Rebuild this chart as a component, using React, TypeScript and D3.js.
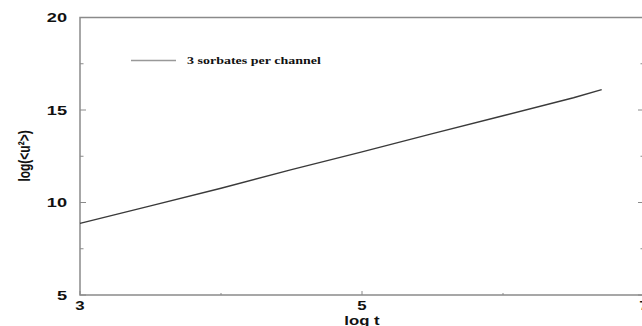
import * as d3 from "d3";
import { useEffect, useRef } from "react";

// log t values and log(<u^2>)
const LOG_T = [3, 3.5, 4, 4.5, 5, 5.5, 6, 6.5, 6.7];
const LOG_U2 = [8.87, 9.82, 10.77, 11.78, 12.74, 13.72, 14.69, 15.66, 16.1];

const X_MAJOR = [3, 5, 7];
const X_MINOR = [4, 6];
const Y_MAJOR = [5, 10, 15, 20];
const Y_MINOR = [7.5, 12.5, 17.5];

const SERIES_LABEL = "3 sorbates per channel";
const X_TITLE = "log t";
const Y_TITLE = "log(<u²>)";

const W = 642;
const H = 326;
const SX = 1.4; // the old figure's text is stretched sideways

const App = () => {
	const svgRef = useRef(null);

	useEffect(() => {
		const x = d3.scaleLinear().domain([3, 7]).range([80, 644]);
		const y = d3.scaleLinear().domain([5, 20]).range([295, 17.5]);

		const svg = d3.select(svgRef.current);
		svg.selectAll("*").remove();
		svg.style("background", "#fff");

		const frame = "#8a8a8a";

		// frame
		svg.append("rect")
			.attr("x", x(3))
			.attr("y", y(20))
			.attr("width", x(7) - x(3))
			.attr("height", y(5) - y(20))
			.attr("fill", "none")
			.attr("stroke", frame)
			.attr("stroke-width", 1.5);

		// y ticks, inward on both sides
		const yTicks = [
			...Y_MAJOR.map((v) => ({ v, len: 6 })),
			...Y_MINOR.map((v) => ({ v, len: 3.5 })),
		];
		yTicks.forEach(({ v, len }) => {
			svg.append("line")
				.attr("x1", x(3))
				.attr("x2", x(3) + len)
				.attr("y1", y(v))
				.attr("y2", y(v))
				.attr("stroke", frame)
				.attr("stroke-width", 1);
			svg.append("line")
				.attr("x1", x(7))
				.attr("x2", x(7) - len)
				.attr("y1", y(v))
				.attr("y2", y(v))
				.attr("stroke", frame)
				.attr("stroke-width", 1);
		});

		// x ticks
		const xTicks = [
			...X_MAJOR.map((v) => ({ v, len: 4 })),
			...X_MINOR.map((v) => ({ v, len: 2 })),
		];
		xTicks.forEach(({ v, len }) => {
			svg.append("line")
				.attr("x1", x(v))
				.attr("x2", x(v))
				.attr("y1", y(5))
				.attr("y2", y(5) - len)
				.attr("stroke", frame)
				.attr("stroke-width", 1);
		});

		const sans = "'Liberation Sans', Arial, sans-serif";

		// y tick labels
		Y_MAJOR.forEach((v) => {
			svg.append("text")
				.attr("transform", `translate(67,${y(v) + 4.6}) scale(${SX},1)`)
				.attr("text-anchor", "end")
				.attr("font-family", sans)
				.attr("font-weight", "bold")
				.attr("font-size", 13)
				.attr("fill", "#111")
				.text(v);
		});

		// x tick labels
		X_MAJOR.forEach((v) => {
			svg.append("text")
				.attr("transform", `translate(${x(v)},310) scale(${SX},1)`)
				.attr("text-anchor", "middle")
				.attr("font-family", sans)
				.attr("font-weight", "bold")
				.attr("font-size", 12)
				.attr("fill", "#111")
				.text(v);
		});

		// axis titles
		svg.append("text")
			.attr("transform", `translate(${x(5)},325) scale(${SX},1)`)
			.attr("text-anchor", "middle")
			.attr("font-family", sans)
			.attr("font-weight", "bold")
			.attr("font-size", 12)
			.attr("fill", "#111")
			.text(X_TITLE);

		svg.append("text")
			.attr("transform", `translate(30,156) rotate(-90) scale(1,${SX})`)
			.attr("text-anchor", "middle")
			.attr("font-family", sans)
			.attr("font-weight", "bold")
			.attr("font-size", 12)
			.attr("fill", "#111")
			.text(Y_TITLE);

		// the curve
		const line = d3
			.line()
			.x((d) => x(d[0]))
			.y((d) => y(d[1]));
		svg.append("path")
			.datum(LOG_T.map((t, i) => [t, LOG_U2[i]]))
			.attr("fill", "none")
			.attr("stroke", "#3a3a3a")
			.attr("stroke-width", 1.4)
			.attr("d", line);

		// legend
		svg.append("line")
			.attr("x1", 131)
			.attr("x2", 176)
			.attr("y1", 60.5)
			.attr("y2", 60.5)
			.attr("stroke", "#999")
			.attr("stroke-width", 1.5);
		svg.append("text")
			.attr("transform", `translate(187,64) scale(${SX},1)`)
			.attr("font-family", "'Liberation Serif', 'Times New Roman', serif")
			.attr("font-weight", "bold")
			.attr("font-size", 10)
			.attr("fill", "#111")
			.text(SERIES_LABEL);
	}, []);

	return (
		<svg
			ref={svgRef}
			width={W}
			height={H}
			style={{ position: "absolute", left: 0, top: 0 }}
		/>
	);
};

export default App;
